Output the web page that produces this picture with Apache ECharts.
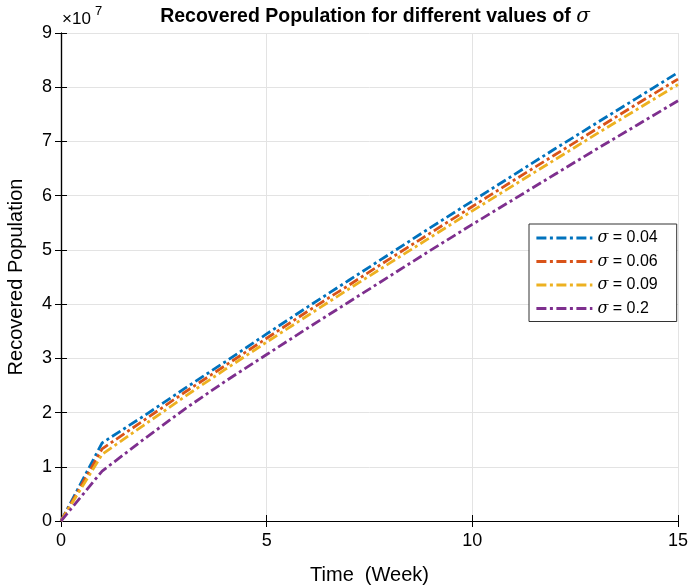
<!DOCTYPE html>
<html>
<head>
<meta charset="utf-8">
<script src="https://cdn.jsdelivr.net/npm/echarts@6/dist/echarts.min.js"></script>
<style>
html,body{margin:0;padding:0;background:#fff;}
#chart{width:690px;height:586px;}
</style>
</head>
<body>
<div id="chart"></div>
<script>
// Time in weeks
const weeks = [0,1,2,3,4,5,6,7,8,9,10,11,12,13,14,15];
// Recovered population, in units of 10^7
const sigma004 = [0, 1.44, 1.93, 2.44, 2.94, 3.45, 3.95, 4.44, 4.93, 5.42, 5.90, 6.38, 6.86, 7.33, 7.80, 8.27];
const sigma006 = [0, 1.33, 1.85, 2.37, 2.87, 3.37, 3.87, 4.35, 4.84, 5.32, 5.80, 6.28, 6.75, 7.22, 7.69, 8.15];
const sigma009 = [0, 1.23, 1.76, 2.29, 2.80, 3.30, 3.79, 4.28, 4.76, 5.24, 5.72, 6.19, 6.66, 7.13, 7.59, 8.05];
const sigma02  = [0, 0.92, 1.50, 2.06, 2.58, 3.07, 3.56, 4.04, 4.52, 5.00, 5.47, 5.93, 6.39, 6.85, 7.30, 7.75];
const seriesNames = ['σ = 0.04', 'σ = 0.06', 'σ = 0.09', 'σ = 0.2'];
const seriesValues = [sigma004, sigma006, sigma009, sigma02];
const colors = ['#0072BD', '#D95319', '#EDB120', '#7E2F8E'];

const FONT = 'Liberation Sans, Arial, sans-serif';
const chart = echarts.init(document.getElementById('chart'), null, {renderer:'canvas'});

const dash = [10, 3.5, 3, 3.5];
const series = seriesValues.map((vals, i) => ({
  name: seriesNames[i],
  type: 'line',
  xAxisIndex: 0, yAxisIndex: 0,
  data: weeks.map((t, k) => [t, vals[k]]),
  symbol: 'none',
  symbolSize: 0,
  showSymbol: false,
  lineStyle: { color: colors[i], width: 2.8, type: dash },
  itemStyle: { color: colors[i] },
  animation: false,
  z: 3 + i
}));

const axisLine = { show: true, lineStyle: { color: '#000', width: 1.2 } };
const axisTick = { show: true, inside: true, length: 6, lineStyle: { color: '#000', width: 1 } };

chart.setOption({
  animation: false,
  backgroundColor: '#fff',
  title: {
    text: 'Recovered Population for different values of {s|σ}',
    left: 370, top: 2, textAlign: 'center',
    textStyle: {
      fontFamily: FONT, fontSize: 19.5, fontWeight: 'bold', color: '#000',
      rich: { s: { fontFamily: 'DejaVu Serif, serif', fontStyle: 'italic', fontWeight: 'normal', fontSize: 20, color: '#000' } }
    }
  },
  grid: { left: 61, right: 12, top: 33, bottom: 65, containLabel: false, outerBoundsMode: 'none' },
  legend: {
    orient: 'vertical',
    left: 529, top: 224,
    padding: [6, 19, 5, 6],
    itemGap: 7.5,
    itemWidth: 56, itemHeight: 14,
    backgroundColor: '#fff',
    borderColor: '#333', borderWidth: 1, borderRadius: 0,
    data: seriesNames,
    itemStyle: { opacity: 0, borderWidth: 0 },
    lineStyle: { width: 2.8 },
    formatter: (name) => '{s|σ}' + name.slice(1),
    textStyle: {
      fontFamily: FONT, fontSize: 16, color: '#000',
      rich: { s: { fontFamily: 'DejaVu Serif, serif', fontStyle: 'italic', fontSize: 16, color: '#000' } }
    }
  },
  xAxis: [{
    type: 'value', min: 0, max: 15, interval: 5,
    name: 'Time  (Week)', nameLocation: 'middle', nameGap: 44,
    nameTextStyle: { fontFamily: FONT, fontSize: 20, color: '#000' },
    axisLine, axisTick,
    axisLabel: { fontFamily: FONT, fontSize: 18, color: '#000', margin: 11 },
    splitLine: { show: true, lineStyle: { color: '#e3e3e3', width: 1 } }
  }, {
    type: 'value', min: 0, max: 15, interval: 5, position: 'top',
    axisLine, axisTick, axisLabel: { show: false }, splitLine: { show: false }
  }],
  yAxis: [{
    type: 'value', min: 0, max: 9, interval: 1,
    name: 'Recovered Population', nameLocation: 'middle', nameGap: 35,
    nameTextStyle: { fontFamily: FONT, fontSize: 20, color: '#000' },
    axisLine, axisTick,
    axisLabel: { fontFamily: FONT, fontSize: 18, color: '#000', margin: 9 },
    splitLine: { show: true, lineStyle: { color: '#e3e3e3', width: 1 } }
  }, {
    type: 'value', min: 0, max: 9, interval: 1, position: 'right',
    axisLine, axisTick, axisLabel: { show: false }, splitLine: { show: false }
  }],
  graphic: [
    { type: 'text', left: 62, top: 11, style: { text: '×10', font: '17px Liberation Sans, Arial, sans-serif', fill: '#000' } },
    { type: 'text', left: 95, top: 5, style: { text: '7', font: '13px Liberation Sans, Arial, sans-serif', fill: '#000' } }
  ],
  series
});
</script>
</body>
</html>
